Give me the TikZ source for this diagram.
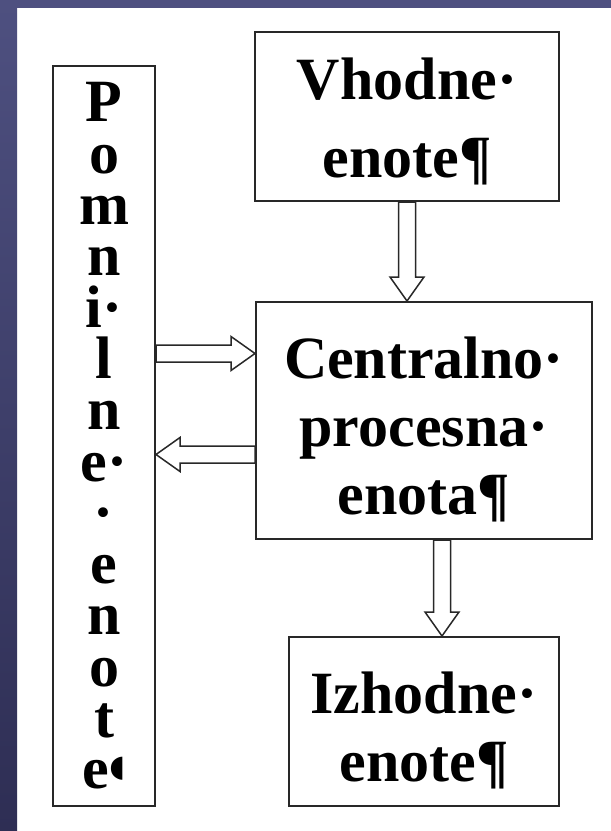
\documentclass[tikz,border=0pt]{standalone}
\usepackage{fontspec}
\setmainfont{Liberation Serif}
\newfontfamily\symfont{DejaVu Sans}
\usepackage{tikz}
\usetikzlibrary{calc}
\definecolor{bandblue}{RGB}{78, 80, 128}
\definecolor{banddark}{RGB}{46, 46, 84}
\definecolor{boxgray}{RGB}{40, 40, 40}

\tikzset{
  unit/.style={draw=boxgray, line width=2pt, fill=white, align=center, inner sep=0pt,
    font=\bfseries\fontsize{60}{68}\selectfont},
  memcol/.style={unit, font=\bfseries\fontsize{60}{51.3}\selectfont},
  blockarrow/.style={draw=boxgray, line width=1.5pt}
}
\newcommand{\topstrut}[1]{\rule{0pt}{#1}}

% hollow block arrow from #1 to #2
\newcommand{\hollowarrow}[2]{%
  \coordinate (ah) at ($(#2)!24pt!(#1)$);
  \draw[blockarrow] ($(#1)!8.5pt!90:(#2)$) -- ($(ah)!8.5pt!90:(#2)$)
    -- ($(ah)!17pt!90:(#2)$) -- (#2) -- ($(ah)!17pt!-90:(#2)$)
    -- ($(ah)!8.5pt!-90:(#2)$) -- ($(#1)!8.5pt!-90:(#2)$) -- cycle;}

\begin{document}
\begin{tikzpicture}[x=1pt, y=-1pt]
  \useasboundingbox (0,0) rectangle (611,831);
  % slide frame
  \fill[white] (0,0) rectangle (611,831);
  \fill[bandblue] (0,0) rectangle (611,8);
  \shade[top color=bandblue, bottom color=banddark] (0,0) rectangle (17,831);

  % units
  \node[memcol, minimum width=102pt, minimum height=740pt] (mem) at (104,436)
    {P\\o\\m\\n\\i·\\l\\n\\e·\\·\\e\\n\\o\\t\\e{\symfont\fontsize{30}{30}\selectfont\raisebox{12pt}{◖}}};
  \node[unit, minimum width=304pt, minimum height=169pt,
    font=\bfseries\fontsize{60}{78}\selectfont] (vhod) at (407,116.5) {\topstrut{51pt}Vhodne·\\enote¶};
  \node[unit, minimum width=336pt, minimum height=237pt] (cpu) at (424,420.5) {\topstrut{59pt}Centralno·\\procesna·\\enota¶};
  \node[unit, minimum width=270pt, minimum height=169pt] (izhod) at (424,721.5) {\topstrut{59pt}Izhodne·\\enote¶};

  % connectors
  \coordinate (in-s) at (vhod.south);
  \coordinate (in-e) at (vhod.south |- cpu.north);
  \coordinate (out-s) at ($(cpu.south)+(18,0)$);
  \coordinate (out-e) at (out-s |- izhod.north);
  \coordinate (wr-e) at ($(cpu.west)+(0,-67)$);
  \coordinate (wr-s) at (wr-e -| mem.east);
  \coordinate (rd-s) at ($(cpu.west)+(0,34)$);
  \coordinate (rd-e) at (rd-s -| mem.east);
  \hollowarrow{in-s}{in-e}
  \hollowarrow{out-s}{out-e}
  \hollowarrow{wr-s}{wr-e}
  \hollowarrow{rd-s}{rd-e}
\end{tikzpicture}
\end{document}
